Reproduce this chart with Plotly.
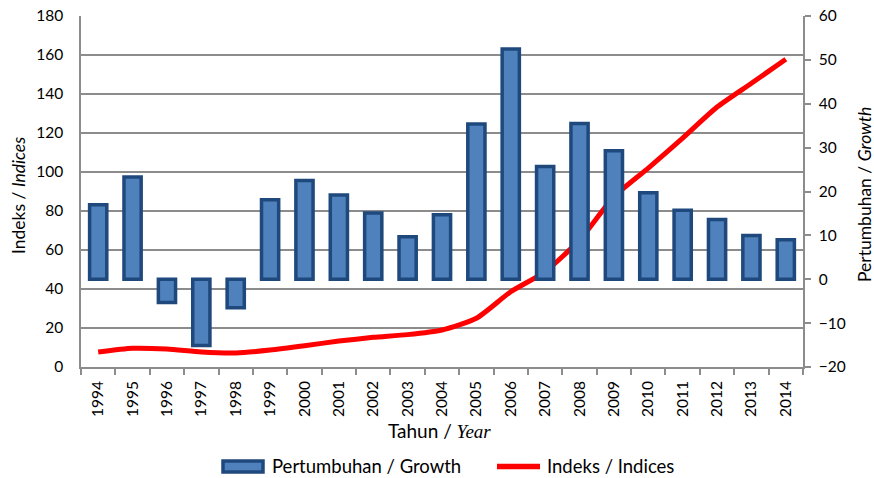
import plotly.graph_objects as go

years = [str(y) for y in range(1994, 2015)]
growth = [17.0, 23.3, -5.3, -15.1, -6.5, 18.1, 22.5, 19.2, 15.1, 9.7, 14.7,
          35.4, 52.5, 25.7, 35.5, 29.3, 19.7, 15.7, 13.6, 10.0, 9.0]
indices = [7.7, 9.6, 9.2, 7.7, 7.2, 8.7, 10.9, 13.3, 15.2, 16.6, 19.0,
           25.0, 38.6, 48.9, 65.1, 87.3, 102.0, 117.4, 133.3, 145.5, 157.8]
left_ticks = list(range(0, 181, 20))
right_ticks = list(range(-20, 61, 10))

FONT = "Lato"
GRID = "#8c8c8c"
BAR_FILL = "#4f81bd"
BAR_LINE = "#1f497d"
RED = "#ff0000"

W, H = 874, 478
PL, PR, PT, PB = 81, 803, 16, 367


def px(x):
    return (x - PL) / (PR - PL)


def py(y):
    return (PB - y) / (PB - PT)


fig = go.Figure()
fig.add_trace(go.Bar(x=years, y=growth, yaxis="y2", width=0.5,
                     marker=dict(color=BAR_FILL, line=dict(color=BAR_LINE, width=3.5)),
                     name="Pertumbuhan / Growth", showlegend=False))
fig.add_trace(go.Scatter(x=years, y=indices, yaxis="y", mode="lines",
                         line=dict(color=RED, width=5, shape="spline", smoothing=0.6),
                         name="Indeks / Indices", showlegend=False))

fig.update_layout(
    width=W, height=H,
    margin=dict(l=PL, r=W - PR, t=PT, b=H - PB, autoexpand=False),
    paper_bgcolor="white", plot_bgcolor="white",
    font=dict(family=FONT, size=15, color="#000000"),
    xaxis=dict(type="category", tickangle=-90, ticks="outside", ticklen=6,
               tickson="boundaries", tickcolor=GRID, tickwidth=1.5,
               showline=True, linecolor=GRID, linewidth=1.5, showgrid=False,
               ticklabelstandoff=6, automargin=False,
               tickfont=dict(size=15.5)),
    yaxis=dict(range=[0, 180], tickvals=left_ticks, showgrid=True, gridcolor=GRID,
               gridwidth=1.5, showline=True, linecolor=GRID, linewidth=1.5,
               ticks="", zeroline=False, ticklabelstandoff=13, automargin=False,
               tickfont=dict(size=15.5)),
    yaxis2=dict(range=[-20, 60], tickvals=right_ticks, overlaying="y", side="right",
                showgrid=False, showline=True, linecolor=GRID, linewidth=1.5,
                ticks="outside", ticklen=6, tickcolor=GRID, tickwidth=1.5,
                zeroline=False, ticklabelstandoff=5, automargin=False,
                tickfont=dict(size=15.5)),
    bargap=0.5,
)

ann = []
ann.append(dict(text="Indeks / <i>Indices</i>", xref="paper", yref="paper",
                x=px(19), y=py(196), xanchor="center", yanchor="middle",
                textangle=-90, showarrow=False, font=dict(size=17.5)))
ann.append(dict(text="Pertumbuhan / <i>Growth</i>", xref="paper", yref="paper",
                x=px(864), y=py(195), xanchor="center", yanchor="middle",
                textangle=-90, showarrow=False, font=dict(size=17.5)))
ann.append(dict(text="Tahun / <span style='font-family:Liberation Serif'><i>Year</i></span>",
                xref="paper", yref="paper", x=px(439), y=py(430),
                xanchor="center", yanchor="middle", showarrow=False,
                font=dict(size=19)))
# manual legend
ann.append(dict(text="Pertumbuhan / Growth", xref="paper", yref="paper",
                x=px(270), y=py(466), xanchor="left", yanchor="middle",
                showarrow=False, font=dict(size=18.5)))
ann.append(dict(text="Indeks / Indices", xref="paper", yref="paper",
                x=px(545), y=py(466), xanchor="left", yanchor="middle",
                showarrow=False, font=dict(size=18.5)))
fig.update_layout(annotations=ann)

shapes = []
shapes.append(dict(type="rect", xref="paper", yref="paper",
                   x0=px(223), x1=px(263), y0=py(472), y1=py(461),
                   fillcolor=BAR_FILL, line=dict(color=BAR_LINE, width=3.5)))
shapes.append(dict(type="line", xref="paper", yref="paper",
                   x0=px(497), x1=px(540), y0=py(466.5), y1=py(466.5),
                   line=dict(color=RED, width=5.5)))
fig.update_layout(shapes=shapes)

fig.write_html("out.html", config={"displayModeBar": False},
               post_script="document.body.style.margin='0';")
